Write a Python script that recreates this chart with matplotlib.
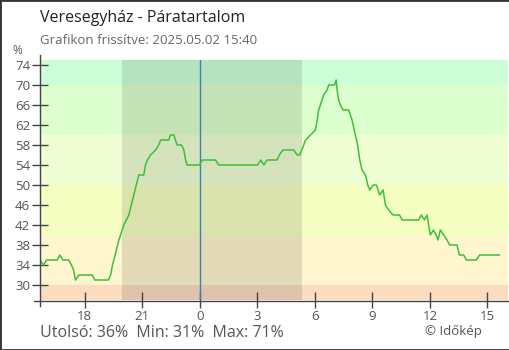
import matplotlib
matplotlib.use('Agg')
import matplotlib.pyplot as plt
from matplotlib.lines import Line2D

plt.rcParams['font.family'] = ['Open Sans', 'DejaVu Sans']

# data: hours relative to midnight (negative = previous day), humidity in %
hours = [-8.33, -8.14, -7.99, -7.43, -7.30, -7.14, -6.83, -6.69, -6.58, -6.53,
         -6.48, -6.31, -5.61, -5.47, -4.77, -4.65, -4.55, -4.48, -4.22, -3.96,
         -3.70, -3.44, -3.18, -2.92, -2.83, -2.73, -2.57, -2.30, -2.14, -2.04,
         -1.62, -1.53, -1.35, -1.27, -1.18, -0.95, -0.83, -0.74, -0.66, -0.02,
         0.13, 0.82, 0.99, 3.02, 3.18, 3.34, 3.51, 4.03, 4.15, 4.33,
         4.90, 5.08, 5.21, 5.42, 5.51, 5.77, 6.03, 6.12, 6.20, 6.29,
         6.46, 6.64, 6.72, 7.02, 7.11, 7.16, 7.24, 7.33, 7.47, 7.76,
         7.94, 8.11, 8.23, 8.34, 8.46, 8.64, 8.76, 8.86, 9.04, 9.21,
         9.38, 9.56, 9.68, 9.85, 10.08, 10.41, 10.55, 11.41, 11.55, 11.71,
         11.85, 11.93, 12.02, 12.19, 12.32, 12.42, 12.54, 12.72, 12.89, 13.03,
         13.41, 13.53, 13.76, 13.90, 14.42, 14.59, 15.62]
humidity = [35, 34, 35, 35, 36, 35, 35, 34, 33, 32,
            31, 32, 32, 31, 31, 32, 34, 35, 39, 42,
            44, 48, 52, 52, 54, 55, 56, 57, 58, 59,
            59, 60, 60, 59, 58, 58, 57, 55, 54, 54,
            55, 55, 54, 54, 55, 54, 55, 55, 56, 57,
            57, 56, 56, 58, 59, 60, 61, 63, 65, 66,
            68, 69, 70, 70, 71, 69, 67, 66, 65, 65,
            63, 60, 58, 55, 53, 52, 50, 49, 50, 50,
            48, 49, 46, 45, 44, 44, 43, 43, 44, 43,
            44, 42, 40, 41, 40, 39, 41, 40, 39, 38,
            38, 36, 36, 35, 35, 36, 36]

tick_hours = [-6, -3, 0, 3, 6, 9, 12, 15]
tick_labels = ['18', '21', '0', '3', '6', '9', '12', '15']
y_ticks = [30, 34, 38, 42, 46, 50, 54, 58, 62, 66, 70, 74]

band_edges = [20, 30, 40, 50, 60, 70, 80]
band_colors = ['#fbdcbf', '#fff6cf', '#f6ffc2', '#efffd3', '#ddffcd', '#ccffd8']

sunset, sunrise = -4.03, 5.35

W, H = 510, 350
fig = plt.figure(figsize=(W / 100, H / 100), dpi=100)
ax = fig.add_axes([40 / W, 50 / H, 468 / W, 240 / H])

for lo, hi, c in zip(band_edges[:-1], band_edges[1:], band_colors):
    ax.axhspan(lo, hi, color=c, lw=0, zorder=0)
ax.axvspan(sunset, sunrise, color='black', alpha=0.11, lw=0, zorder=1)
ax.axvline(0, color='#3b82b8', lw=1.0, zorder=2)

ax.plot(hours, humidity, color='#3cbf3c', lw=1.1, zorder=3)

ax.set_xlim(-8.33, 16.07)
ax.set_ylim(27, 75)

for s in ['top', 'right', 'left', 'bottom']:
    ax.spines[s].set_visible(False)

ax.set_yticks(y_ticks)
ax.set_xticks(tick_hours)
ax.set_xticklabels(tick_labels)
ax.tick_params(axis='both', direction='inout', length=12, width=1, color='#444',
               labelcolor='#555', labelsize=9.5)
ax.tick_params(axis='y', pad=1)
ax.tick_params(axis='x', pad=1)

# axis lines extending past corner
fig.add_artist(Line2D([40.5 / W, 40.5 / W], [1 - 55 / H, 1 - 306 / H], color='#444', lw=1))
fig.add_artist(Line2D([34 / W, 508 / W], [1 - 300.5 / H, 1 - 300.5 / H], color='#444', lw=1))

# texts
fig.text(40 / W, 1 - 18 / H, 'Veresegyház - Páratartalom', fontsize=11.5, color='#222', va='center')
fig.text(40 / W, 1 - 41 / H, 'Grafikon frissítve: 2025.05.02 15:40', fontsize=9.5, color='#666', va='center')
fig.text(17 / W, 1 - 51 / H, '%', fontsize=8.5, color='#555', va='center', ha='center')
fig.text(40 / W, 1 - 333 / H, 'Utolsó: 36%  Min: 31%  Max: 71%', fontsize=11.5, color='#555', va='center')
fig.text(482 / W, 1 - 331 / H, '© Időkép', fontsize=9.5, color='#555', va='center', ha='right')

# border around the whole image
fig.add_artist(plt.Rectangle((0, 0), 1, 1, transform=fig.transFigure, fill=False,
                             edgecolor='#333', lw=2))

fig.savefig('out.png', dpi=100)
